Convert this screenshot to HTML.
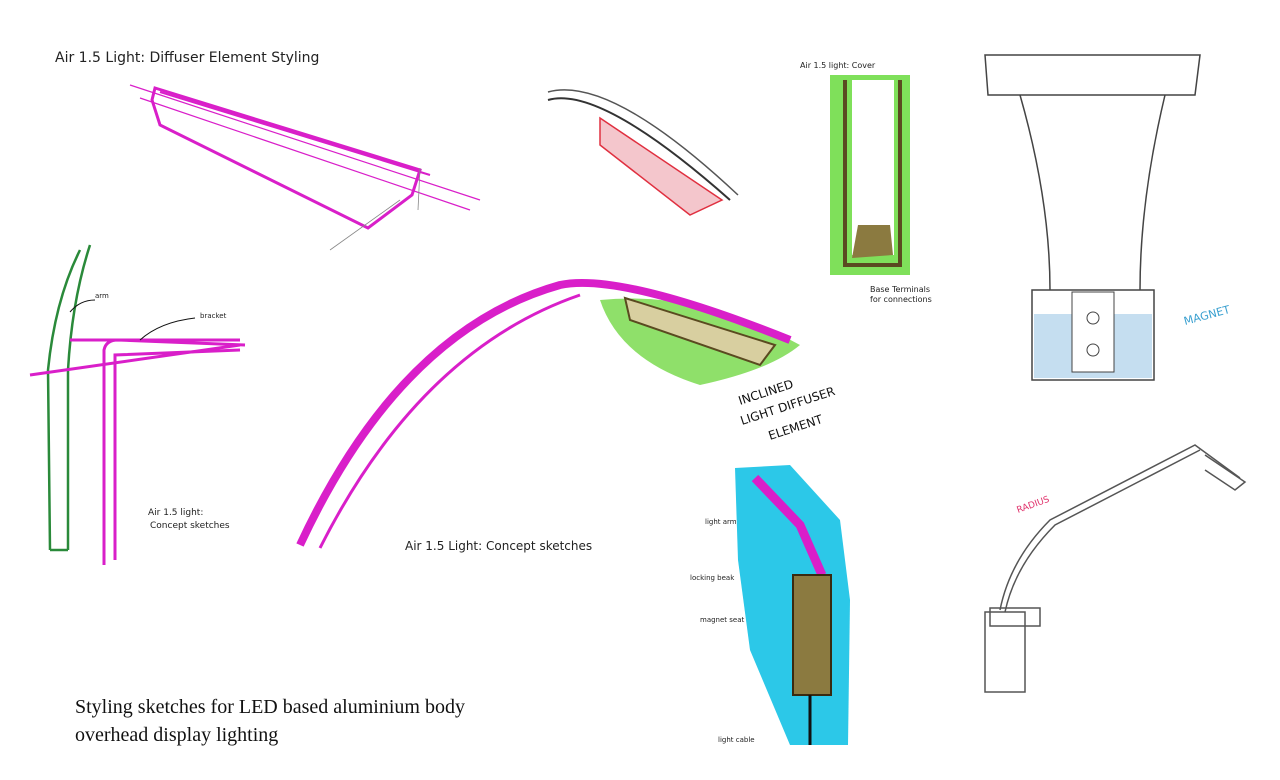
<!DOCTYPE html>
<html><head><meta charset="utf-8"><style>
html,body{margin:0;padding:0;background:#fff;width:1280px;height:780px;overflow:hidden}
svg{display:block}
.h{font-family:"DejaVu Sans","Liberation Sans",sans-serif;fill:#222}
.cap{font-family:"Liberation Serif",serif;font-size:20px;fill:#111}
</style></head><body>
<svg width="1280" height="780" viewBox="0 0 1280 780" xmlns="http://www.w3.org/2000/svg">
<!-- Title -->
<text x="55" y="62" class="h" font-size="14">Air 1.5 Light: Diffuser Element Styling</text>
<!-- Diffuser magenta -->
<g stroke="#d91fc9" fill="none" stroke-width="3">
<path d="M155 88 L420 170 L412 195 L368 228 L160 125 L152 100 Z"/>
<path d="M130 85 L480 200" stroke-width="1.2"/>
<path d="M140 98 L470 210" stroke-width="1.2"/>
<path d="M160 92 L430 175" stroke-width="2"/>
</g>
<path d="M330 250 L400 200 M420 168 L418 210" stroke="#888" stroke-width="0.8"/>
<!-- top middle sketch -->
<path d="M600 118 L722 200 L690 215 L600 145 Z" fill="#f4c6cc" stroke="#e03040" stroke-width="1.5"/>
<path d="M548 100 Q600 85 730 200" fill="none" stroke="#333" stroke-width="2"/>
<path d="M548 92 Q610 75 738 195" fill="none" stroke="#555" stroke-width="1.5"/>
<!-- cover -->
<text x="800" y="68" class="h" font-size="8">Air 1.5 light: Cover</text>
<rect x="830" y="75" width="80" height="200" fill="#7fe05a"/>
<path d="M845 80 L845 265 L900 265 L900 80" fill="none" stroke="#5a4a20" stroke-width="4"/>
<rect x="852" y="80" width="42" height="175" fill="#fff"/>
<path d="M858 225 L890 225 L893 255 L852 258 Z" fill="#8b7a40"/>
<text x="870" y="292" class="h" font-size="8">Base Terminals</text>
<text x="870" y="302" class="h" font-size="8">for connections</text>
<!-- lamp right top -->
<g fill="none" stroke="#444" stroke-width="1.5">
<path d="M985 55 L1200 55 L1195 95 L988 95 Z"/>
<path d="M1020 95 Q1050 200 1050 290 M1165 95 Q1140 200 1140 290"/>
<rect x="1032" y="290" width="122" height="90"/>
</g>
<rect x="1034" y="314" width="118" height="64" fill="#c5def0"/>
<rect x="1072" y="292" width="42" height="80" fill="#fff" stroke="#444"/>
<circle cx="1093" cy="318" r="6" fill="none" stroke="#444"/>
<circle cx="1093" cy="350" r="6" fill="none" stroke="#444"/>
<text x="1185" y="325" font-family="DejaVu Sans" font-size="11" fill="#3aa0d0" transform="rotate(-15 1185 325)">MAGNET</text>
<!-- left sketch -->
<g fill="none" stroke="#2a8a3a" stroke-width="2.5">
<path d="M50 550 L48 370 Q55 300 80 250"/>
<path d="M68 550 L68 370 Q72 300 90 245"/>
<path d="M50 550 L68 550"/>
</g>
<g fill="none" stroke="#d91fc9" stroke-width="3">
<path d="M104 565 L104 350 Q106 340 118 340 L245 345"/>
<path d="M115 560 L115 355 L240 350"/>
<path d="M70 340 L240 340 M30 375 L240 345"/>
</g>
<text x="95" y="298" class="h" font-size="7">arm</text>
<text x="200" y="318" class="h" font-size="7">bracket</text>
<path d="M70 312 Q80 300 95 300 M140 340 Q160 322 195 318" stroke="#111" fill="none"/>
<text x="148" y="515" class="h" font-size="9">Air 1.5 light:</text>
<text x="150" y="528" class="h" font-size="9">Concept sketches</text>
<!-- middle big arm -->
<path d="M600 300 Q700 290 800 345 Q770 370 700 385 Q620 360 600 300 Z" fill="#8fe06a"/>
<path d="M300 545 Q400 330 560 285 Q620 272 790 340" fill="none" stroke="#d91fc9" stroke-width="8"/>
<path d="M320 548 Q420 350 580 295" fill="none" stroke="#d91fc9" stroke-width="3"/>
<path d="M625 298 L775 345 L760 365 L630 320 Z" fill="#d8cfa0" stroke="#5a4a20" stroke-width="2"/>
<text x="740" y="405" font-family="DejaVu Sans" font-size="12" fill="#111" transform="rotate(-18 740 405)">INCLINED</text>
<text x="742" y="425" font-family="DejaVu Sans" font-size="12" fill="#111" transform="rotate(-18 742 425)">LIGHT DIFFUSER</text>
<text x="770" y="440" font-family="DejaVu Sans" font-size="12" fill="#111" transform="rotate(-18 770 440)">ELEMENT</text>
<text x="405" y="550" class="h" font-size="12">Air 1.5 Light: Concept sketches</text>
<!-- bottom middle cyan -->
<path d="M735 468 L790 465 L840 520 L850 600 L848 745 L790 745 L750 650 L738 560 Z" fill="#2cc8e8"/>
<path d="M755 478 L800 525 L822 575" fill="none" stroke="#d91fc9" stroke-width="9"/>
<rect x="793" y="575" width="38" height="120" fill="#8b7a40" stroke="#3a2a10" stroke-width="2"/>
<path d="M810 695 L810 745" stroke="#111" stroke-width="3"/>
<g class="h" font-size="7"><text x="705" y="524">light arm</text><text x="690" y="580">locking beak</text><text x="700" y="622">magnet seat</text><text x="718" y="742">light cable</text></g>
<!-- bottom right arm -->
<g fill="none" stroke="#555" stroke-width="1.5">
<path d="M1000 610 Q1010 560 1050 520 L1195 445 L1240 478"/>
<path d="M1005 612 Q1015 565 1055 525 L1200 450"/>
<path d="M1205 455 L1245 482 L1235 490 L1205 470"/>
<rect x="985" y="612" width="40" height="80"/>
<rect x="990" y="608" width="50" height="18"/>
</g>
<text x="1018" y="513" font-family="DejaVu Sans" font-size="9" fill="#e0306a" transform="rotate(-20 1018 513)">RADIUS</text>
<!-- caption -->
<text x="75" y="713" class="cap">Styling sketches for LED based aluminium body</text>
<text x="75" y="741" class="cap">overhead display lighting</text>
</svg>
</body></html>
